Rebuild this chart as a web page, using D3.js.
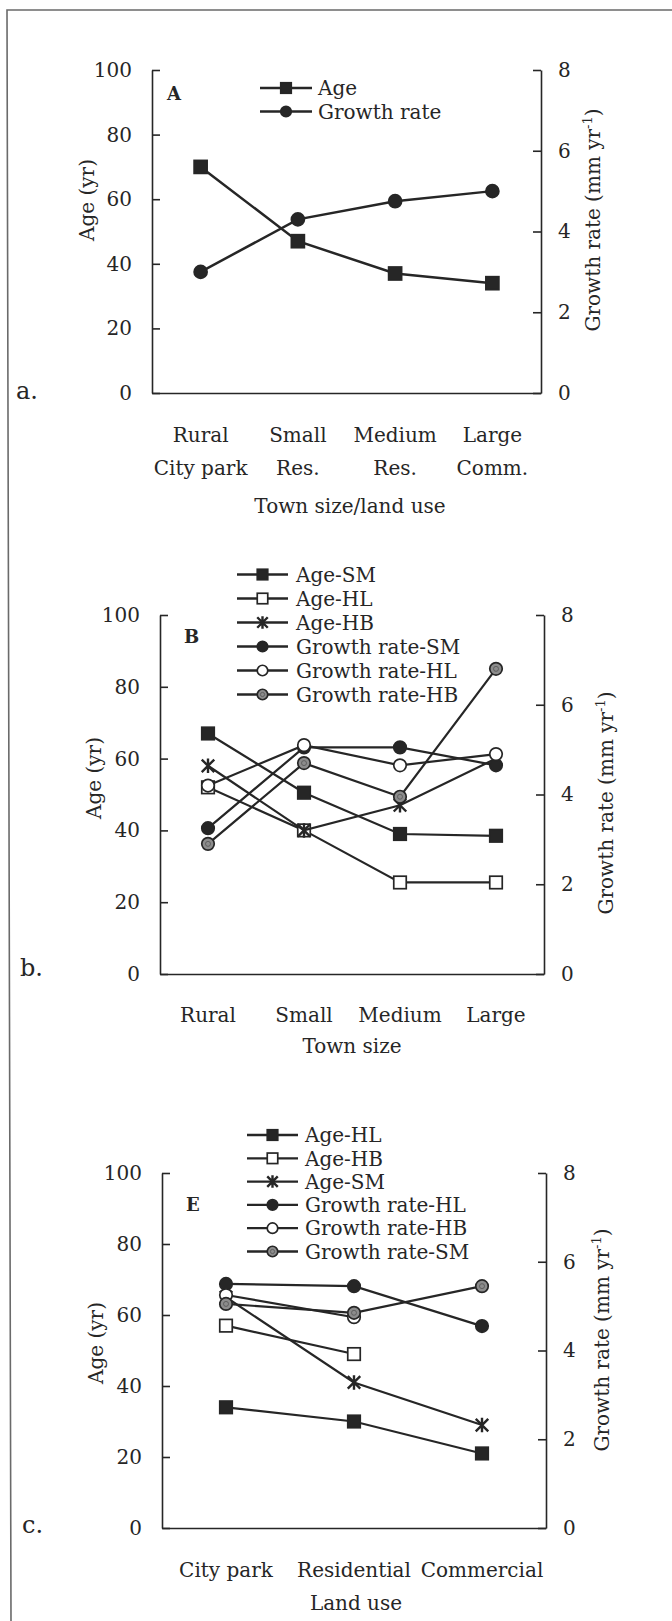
<!DOCTYPE html>
<html>
<head>
<meta charset="utf-8">
<script src="https://cdn.jsdelivr.net/npm/d3@7"></script>
<style>
  body { margin: 0; background: #fff; }
  svg text { font-family: "DejaVu Serif", serif; fill: #262626; }
</style>
</head>
<body>
<svg id="chart"></svg>
<script>
const W = 672, H = 1621;

// a. town size / land use
const catsA = ["Rural", "Small", "Medium", "Large"];
const subCatsA = ["City park", "Res.", "Res.", "Comm."];
const ageA = [70, 47, 37, 34];
const growthA = [3.0, 4.3, 4.75, 5.0];

// b. town size, per species
const catsB = ["Rural", "Small", "Medium", "Large"];
const ageSM_B = [67, 50.5, 39, 38.5];
const ageHL_B = [52, 40, 25.5, 25.5];
const ageHB_B = [58, 40, 47, 60];
const growthSM_B = [3.25, 5.05, 5.05, 4.65];
const growthHL_B = [4.2, 5.1, 4.65, 4.9];
const growthHB_B = [2.9, 4.7, 3.95, 6.8];

// c. land use, per species
const catsC = ["City park", "Residential", "Commercial"];
const ageHL_C = [34, 30, 21];
const ageHB_C = [57, 49, null];
const ageSM_C = [65, 41, 29];
const growthHL_C = [5.5, 5.45, 4.55];
const growthHB_C = [5.25, 4.75, null];
const growthSM_C = [5.05, 4.85, 5.45];

const ageTicks = [0, 20, 40, 60, 80, 100];
const growthTicks = [0, 2, 4, 6, 8];

const ink = "#262626";

const svg = d3.select("#chart").attr("width", W).attr("height", H);
svg.append("rect").attr("width", W).attr("height", H).attr("fill", "#fff");

// scanned frame (top + left edges only)
svg.append("path")
  .attr("d", "M11,1621L7,10L672,10")
  .attr("fill", "none").attr("stroke", "#6a6a6a").attr("stroke-width", 1.6);

function drawMarker(g, type, x, y, s) {
  if (type === "sqFill" || type === "sqOpen") {
    g.append("rect")
      .attr("x", x - s / 2).attr("y", y - s / 2)
      .attr("width", s).attr("height", s)
      .attr("fill", type === "sqFill" ? ink : "#fff")
      .attr("stroke", ink).attr("stroke-width", 1.7);
  } else if (type === "star") {
    const h = s / 2;
    g.append("path")
      .attr("d", `M${x - h},${y - h}L${x + h},${y + h}M${x - h},${y + h}L${x + h},${y - h}M${x},${y - h - 1}L${x},${y + h + 1}`)
      .attr("stroke", ink).attr("stroke-width", 2.4).attr("fill", "none");
  } else {
    const fill = type === "cirFill" ? ink : type === "cirOpen" ? "#fff" : "#8c8c8c";
    g.append("circle")
      .attr("cx", x).attr("cy", y).attr("r", s / 2)
      .attr("fill", fill).attr("stroke", ink).attr("stroke-width", 1.7);
    if (type === "cirGray") {
      g.append("circle").attr("cx", x).attr("cy", y).attr("r", s / 5)
        .attr("fill", "none").attr("stroke", "#555").attr("stroke-width", 0.8);
    }
  }
}

const panels = [
  {
    tag: "a.", letter: "A", cats: catsA, sub: subCatsA, title: "Town size/land use",
    x0: 152, x1: 541, top: 70, bot: 393, lw: 2.5, ms: 13,
    series: [
      { name: "Age", vals: ageA, axis: "L", m: "sqFill" },
      { name: "Growth rate", vals: growthA, axis: "R", m: "cirFill" }
    ],
    legend: { y: 88, step: 23.5, lx0: 260, lx1: 312, tx: 318 },
    letterPos: [167, 100], tagPos: [16, 399],
    yLab: [94, 200], rLab: [600, 220], catY: 442, subY: 475, titleY: 513, titleX: 350
  },
  {
    tag: "b.", letter: "B", cats: catsB, sub: null, title: "Town size",
    x0: 160, x1: 544, top: 615, bot: 974, lw: 2.2, ms: 12.5,
    series: [
      { name: "Age-SM", vals: ageSM_B, axis: "L", m: "sqFill" },
      { name: "Age-HL", vals: ageHL_B, axis: "L", m: "sqOpen" },
      { name: "Age-HB", vals: ageHB_B, axis: "L", m: "star" },
      { name: "Growth rate-SM", vals: growthSM_B, axis: "R", m: "cirFill" },
      { name: "Growth rate-HL", vals: growthHL_B, axis: "R", m: "cirOpen" },
      { name: "Growth rate-HB", vals: growthHB_B, axis: "R", m: "cirGray" }
    ],
    legend: { y: 574.5, step: 24, lx0: 237, lx1: 288, tx: 296 },
    letterPos: [184, 643], tagPos: [20, 976],
    yLab: [101, 778], rLab: [613, 803], catY: 1022, subY: null, titleY: 1053, titleX: 352
  },
  {
    tag: "c.", letter: "E", cats: catsC, sub: null, title: "Land use",
    x0: 162, x1: 546, top: 1173, bot: 1528, lw: 2.2, ms: 12.5,
    series: [
      { name: "Age-HL", vals: ageHL_C, axis: "L", m: "sqFill" },
      { name: "Age-HB", vals: ageHB_C, axis: "L", m: "sqOpen" },
      { name: "Age-SM", vals: ageSM_C, axis: "L", m: "star" },
      { name: "Growth rate-HL", vals: growthHL_C, axis: "R", m: "cirFill" },
      { name: "Growth rate-HB", vals: growthHB_C, axis: "R", m: "cirOpen" },
      { name: "Growth rate-SM", vals: growthSM_C, axis: "R", m: "cirGray" }
    ],
    legend: { y: 1135, step: 23.3, lx0: 247, lx1: 298, tx: 305 },
    letterPos: [186, 1211], tagPos: [22, 1533],
    yLab: [103, 1343], rLab: [609, 1340], catY: 1577, subY: null, titleY: 1610, titleX: 356
  }
];

panels.forEach(p => {
  const g = svg.append("g");
  const x = d3.scalePoint().domain(p.cats).range([p.x0, p.x1]).padding(0.5);
  const yL = d3.scaleLinear().domain([0, 100]).range([p.bot, p.top]);
  const yR = d3.scaleLinear().domain([0, 8]).range([p.bot, p.top]);

  // axes with inward ticks
  const axL = g.append("g").attr("transform", `translate(${p.x0},0)`)
    .call(d3.axisLeft(yL).tickValues(ageTicks).tickSizeInner(-8).tickSizeOuter(0).tickPadding(20));
  const axR = g.append("g").attr("transform", `translate(${p.x1},0)`)
    .call(d3.axisRight(yR).tickValues(growthTicks).tickSizeInner(-8).tickSizeOuter(0).tickPadding(17));
  const axB = g.append("g").attr("transform", `translate(0,${p.bot})`)
    .call(d3.axisBottom(x).tickSize(0).tickFormat(""));
  [axL, axR, axB].forEach(a => {
    a.attr("font-family", null).attr("font-size", 20);
    a.selectAll("path, line").attr("stroke", ink).attr("stroke-width", 1.6);
    a.selectAll("text").attr("fill", "#262626");
  });
  axB.selectAll(".tick text").remove();

  // category labels
  g.selectAll(".cat").data(p.cats).join("text")
    .attr("x", d => x(d)).attr("y", p.catY)
    .attr("text-anchor", "middle").attr("font-size", 20).text(d => d);
  if (p.sub) {
    g.selectAll(".sub").data(p.sub).join("text")
      .attr("x", (d, i) => x(p.cats[i])).attr("y", p.subY)
      .attr("text-anchor", "middle").attr("font-size", 20).text(d => d);
  }
  g.append("text").attr("x", p.titleX).attr("y", p.titleY)
    .attr("text-anchor", "middle").attr("font-size", 20).text(p.title);

  // axis titles
  g.append("text").attr("transform", `translate(${p.yLab[0]},${p.yLab[1]}) rotate(-90)`)
    .attr("text-anchor", "middle").attr("font-size", 20).text("Age (yr)");
  const rt = g.append("text").attr("transform", `translate(${p.rLab[0]},${p.rLab[1]}) rotate(-90)`)
    .attr("text-anchor", "middle").attr("font-size", 20);
  rt.append("tspan").text("Growth rate (mm yr");
  rt.append("tspan").attr("dy", -8).attr("font-size", 13).text("-1");
  rt.append("tspan").attr("dy", 8).text(")");

  // panel letters
  g.append("text").attr("x", p.letterPos[0]).attr("y", p.letterPos[1])
    .attr("font-size", 18).attr("font-weight", "bold").text(p.letter);
  g.append("text").attr("x", p.tagPos[0]).attr("y", p.tagPos[1])
    .attr("font-size", 24).text(p.tag);

  // series
  p.series.forEach(s => {
    const y = s.axis === "L" ? yL : yR;
    const pts = s.vals.map((v, i) => ({ c: p.cats[i], v }));
    const line = d3.line().defined(d => d.v != null).x(d => x(d.c)).y(d => y(d.v));
    g.append("path").datum(pts).attr("d", line)
      .attr("fill", "none").attr("stroke", ink).attr("stroke-width", p.lw);
    const mg = g.append("g");
    pts.filter(d => d.v != null).forEach(d => drawMarker(mg, s.m, x(d.c), y(d.v), p.ms));
  });

  // legend
  p.series.forEach((s, i) => {
    const ly = p.legend.y + i * p.legend.step;
    g.append("line").attr("x1", p.legend.lx0).attr("x2", p.legend.lx1)
      .attr("y1", ly).attr("y2", ly).attr("stroke", ink).attr("stroke-width", 2.3);
    drawMarker(g, s.m, (p.legend.lx0 + p.legend.lx1) / 2, ly, 10.5);
    g.append("text").attr("x", p.legend.tx).attr("y", ly).attr("dy", "0.36em")
      .attr("font-size", 20).text(s.name);
  });
});
</script>
</body>
</html>
